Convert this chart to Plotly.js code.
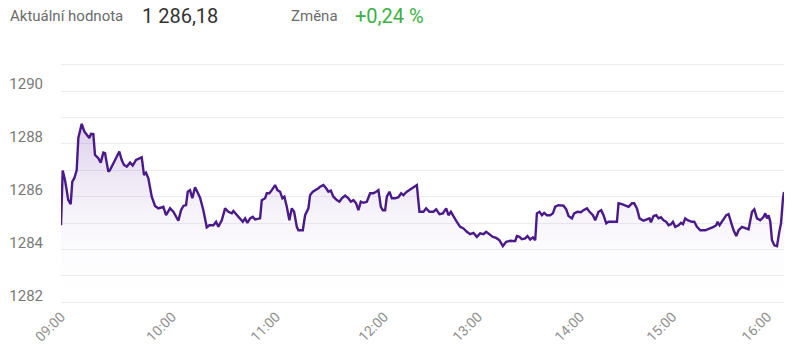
<!DOCTYPE html>
<html>
<head>
<meta charset="utf-8">
<script src="https://cdn.plot.ly/plotly-3.0.1.min.js"></script>
<style>
html,body{margin:0;padding:0;background:#fff;}
#chart{width:800px;height:356px;}
</style>
</head>
<body>
<div id="chart"></div>
<script>
// ---- data ----
const headerLabel = 'Aktuální hodnota';
const currentValue = '1 286,18';
const changeLabel = 'Změna';
const changeValue = '+0,24 %';

// sample position along the trading day (category-like index)
const t = [
  0, 1.7, 4, 7.3, 9.7, 11.3, 13.3, 15.7, 17.3, 20.7,
  23.3, 25.7, 28.3, 30, 32.3, 34, 37.3, 39.7, 42.3, 44,
  47.3, 49, 54, 58.3, 60.7, 63, 65.7, 69, 71.7, 75,
  79, 80.7, 83, 85, 87.3, 90.7, 94, 97.3, 102.3, 105,
  109, 112.3, 117.3, 120, 122.3, 125, 126.7, 129, 131.3, 134,
  136.7, 139, 142.3, 145.7, 148.3, 152.3, 155, 157.3, 160.7, 164,
  167.3, 170.7, 172.3, 175.7, 179, 181.7, 184, 186.3, 189, 191.7,
  194, 199, 200.7, 204, 205.7, 208.3, 210.7, 214, 216.3, 219,
  221.3, 223.3, 225.7, 228.3, 230.7, 233, 235.7, 237.3, 241.7, 244,
  247.3, 249, 251.7, 255, 257.3, 259, 262.3, 265, 267.3, 269.7,
  272.3, 275.7, 278.3, 280.7, 284, 287.3, 289.7, 292.3, 295, 297.3,
  299.7, 302.3, 305.7, 309, 312.3, 315, 317.3, 319.7, 321.7, 324,
  325.7, 328.3, 330.7, 334, 337.3, 340, 342.3, 345.7, 350.7, 355.7,
  358.3, 362.3, 365, 368.3, 372.3, 375, 378.3, 381.7, 385, 387.3,
  389.7, 392.3, 395.7, 399, 402.3, 405.7, 409, 412.3, 415.7, 419,
  422.3, 425, 428.3, 431.7, 435, 438.3, 441.7, 445, 449, 454,
  455.7, 458.3, 460.7, 464, 466.3, 469, 471.7, 474, 475.7, 478.3,
  480.7, 483, 485.7, 489, 491.7, 494, 497.3, 502.3, 505, 507.3,
  510.7, 513, 516.3, 519.7, 522.3, 525.7, 528.3, 531.7, 534, 537.3,
  540, 542.3, 545, 547.3, 555.7, 557.3, 560.7, 564, 567.3, 570.7,
  573, 575.7, 578.3, 582.3, 585.7, 588.3, 589.7, 592.3, 595, 597.3,
  599.7, 602.3, 605, 607.3, 609.7, 611.7, 614, 617.3, 619.7, 621.7,
  624, 626.3, 630.7, 633, 635.7, 639, 644, 649, 652.3, 655,
  656.3, 658.3, 661.7, 665, 667.3, 669.7, 672.3, 675, 677.3, 680.7,
  684, 687.3, 690.7, 693, 695.7, 699, 702.3, 704, 705.7, 707.3,
  709, 710.7, 713, 715.7, 718, 719.7, 721.7, 722.7
];
const price = [
  1284.92, 1286.99, 1286.63, 1285.87, 1285.72, 1286.57, 1286.70, 1287.01, 1288.22, 1288.76,
  1288.47, 1288.34, 1288.22, 1288.38, 1288.37, 1287.58, 1287.46, 1287.29, 1287.67, 1287.65,
  1286.95, 1287.01, 1287.39, 1287.71, 1287.39, 1287.20, 1287.14, 1287.29, 1287.18, 1287.39,
  1287.46, 1287.49, 1286.82, 1286.91, 1286.70, 1286.00, 1285.65, 1285.56, 1285.62, 1285.30,
  1285.56, 1285.43, 1285.09, 1285.49, 1285.65, 1285.68, 1286.19, 1286.25, 1285.94, 1286.36,
  1286.15, 1285.96, 1285.49, 1284.84, 1284.92, 1284.92, 1285.05, 1284.86, 1285.11, 1285.56,
  1285.43, 1285.37, 1285.46, 1285.30, 1285.14, 1285.05, 1285.18, 1285.01, 1285.18, 1285.24,
  1285.14, 1285.18, 1285.87, 1285.94, 1286.13, 1286.13, 1286.25, 1286.44, 1286.25, 1286.19,
  1285.94, 1286.00, 1285.62, 1285.11, 1285.56, 1285.43, 1284.86, 1284.73, 1284.73, 1285.30,
  1285.56, 1286.06, 1286.19, 1286.25, 1286.32, 1286.38, 1286.44, 1286.32, 1286.19, 1286.23,
  1286.00, 1285.87, 1285.81, 1285.94, 1286.04, 1285.94, 1285.81, 1285.87, 1285.75, 1285.49,
  1285.81, 1285.77, 1285.81, 1286.13, 1286.13, 1286.19, 1286.25, 1285.62, 1285.49, 1285.49,
  1286.00, 1286.19, 1285.94, 1285.94, 1285.98, 1286.13, 1286.06, 1286.19, 1286.32, 1286.44,
  1285.43, 1285.43, 1285.56, 1285.43, 1285.43, 1285.52, 1285.34, 1285.37, 1285.56, 1285.30,
  1285.43, 1285.24, 1285.05, 1284.86, 1284.80, 1284.67, 1284.58, 1284.63, 1284.48, 1284.61,
  1284.58, 1284.67, 1284.58, 1284.48, 1284.44, 1284.35, 1284.13, 1284.29, 1284.33, 1284.32,
  1284.51, 1284.48, 1284.39, 1284.42, 1284.51, 1284.38, 1284.46, 1284.35, 1285.37, 1285.43,
  1285.30, 1285.39, 1285.30, 1285.30, 1285.37, 1285.62, 1285.68, 1285.66, 1285.52, 1285.27,
  1285.18, 1285.37, 1285.43, 1285.41, 1285.49, 1285.56, 1285.43, 1285.30, 1285.11, 1285.43,
  1285.49, 1285.30, 1284.99, 1285.05, 1285.05, 1285.75, 1285.72, 1285.68, 1285.62, 1285.75,
  1285.75, 1285.56, 1285.18, 1285.09, 1285.14, 1285.18, 1285.03, 1285.27, 1285.30, 1285.18,
  1285.22, 1285.11, 1285.05, 1284.92, 1284.96, 1285.05, 1284.86, 1284.92, 1285.01, 1284.96,
  1285.18, 1285.11, 1285.05, 1285.05, 1284.86, 1284.73, 1284.73, 1284.80, 1284.86, 1284.92,
  1285.05, 1284.92, 1285.11, 1285.30, 1285.34, 1285.05, 1284.73, 1284.51, 1284.73, 1284.86,
  1284.80, 1284.76, 1285.43, 1285.52, 1285.18, 1285.11, 1285.24, 1285.37, 1285.18, 1285.30,
  1285.05, 1284.35, 1284.16, 1284.13, 1284.67, 1284.99, 1285.94, 1286.18
];

const hourPos = [0, 111, 215, 323, 417, 519, 611, 706];
const hourLabels = ['09:00', '10:00', '11:00', '12:00', '13:00', '14:00', '15:00', '16:00'];
const yGrid = [1282, 1283, 1284, 1285, 1286, 1287, 1288, 1289, 1290, 1291];
const yGridText = ['1282', '', '1284', '', '1286', '', '1288', '', '1290', ''];

// ---- chart ----
const font = 'Roboto, "Open Sans", Arial, sans-serif';
const trace = {
  x: t,
  y: price,
  type: 'scatter',
  mode: 'lines',
  line: {color: '#4a1a88', width: 2.4, shape: 'linear'},
  fill: 'tozeroy',
  fillgradient: {
    type: 'vertical',
    start: 1282,
    stop: 1289,
    colorscale: [[0, 'rgba(255,255,255,0)'], [1, 'rgba(120,70,175,0.28)']]
  },
  hoverinfo: 'skip'
};

const hy = 1.1874;
const layout = {
  width: 800,
  height: 356,
  margin: {l: 61, r: 16, t: 62.4, b: 51.4},
  paper_bgcolor: '#fff',
  plot_bgcolor: '#fff',
  showlegend: false,
  font: {family: font, color: '#777'},
  xaxis: {
    range: [0, 722.7],
    tickmode: 'array',
    tickvals: hourPos,
    ticktext: hourLabels,
    tickangle: -45,
    showgrid: false,
    zeroline: false,
    showline: false,
    ticks: '',
    ticklabelstandoff: 11.6,
    tickfont: {family: font, size: 14, color: '#8f8f8f'},
    fixedrange: true
  },
  yaxis: {
    range: [1281.9, 1291.1],
    tickmode: 'array',
    tickvals: yGrid,
    ticktext: yGridText,
    showgrid: true,
    gridcolor: '#ebebf2',
    gridwidth: 1,
    zeroline: false,
    showline: false,
    ticks: '',
    ticklabelshift: -7,
    ticklabelstandoff: 17,
    tickfont: {family: font, size: 15, color: '#7a7a7a'},
    fixedrange: true
  },
  annotations: [
    {xref: 'paper', yref: 'paper', x: -0.0735, y: hy, xanchor: 'left', yanchor: 'middle',
     text: headerLabel, showarrow: false, font: {family: font, size: 15, color: '#6b6b6b'}},
    {xref: 'paper', yref: 'paper', x: 0.1095, y: hy, xanchor: 'left', yanchor: 'middle',
     text: currentValue, showarrow: false, font: {family: font, size: 20, color: '#333'}},
    {xref: 'paper', yref: 'paper', x: 0.3155, y: hy, xanchor: 'left', yanchor: 'middle',
     text: changeLabel, showarrow: false, font: {family: font, size: 15, color: '#6b6b6b'}},
    {xref: 'paper', yref: 'paper', x: 0.4045, y: hy, xanchor: 'left', yanchor: 'middle',
     text: changeValue, showarrow: false, font: {family: font, size: 20, color: '#3cb043'}}
  ]
};

Plotly.newPlot('chart', [trace], layout, {displayModeBar: false, staticPlot: true});
</script>
</body>
</html>
